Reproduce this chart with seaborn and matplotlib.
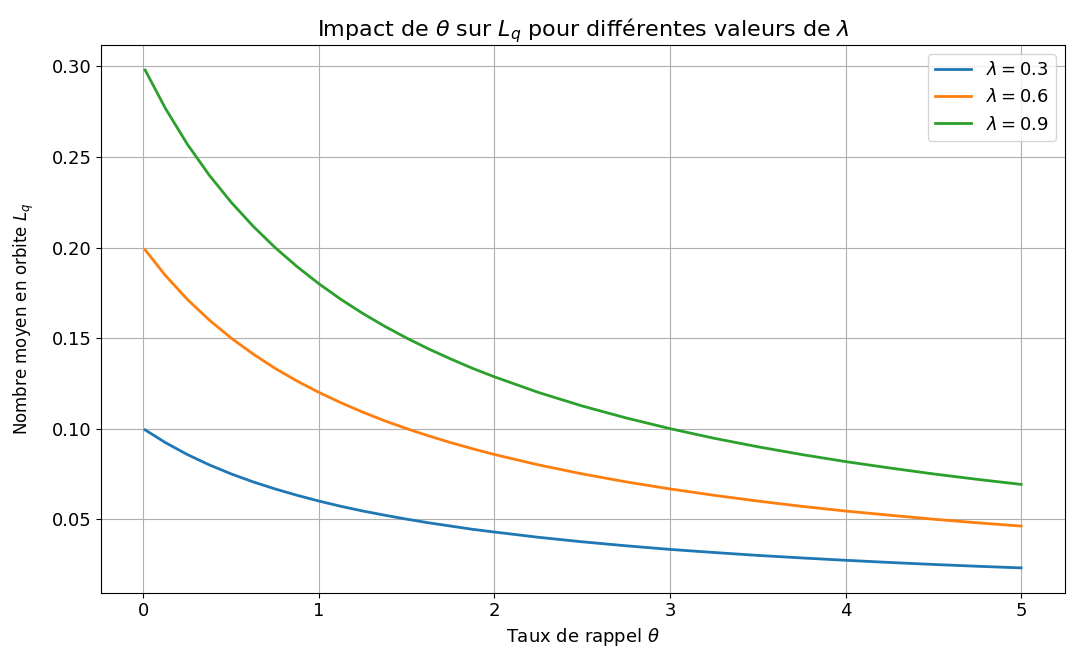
import matplotlib
matplotlib.use("Agg")
import matplotlib.pyplot as plt
import seaborn as sns
import pandas as pd

# taux de rappel theta
theta = [0.01, 0.125, 0.25, 0.375, 0.5, 0.625, 0.75, 0.875, 1.0, 1.125,
         1.25, 1.375, 1.5, 1.625, 1.75, 1.875, 2.0, 2.25, 2.5,
         2.75, 3.0, 3.25, 3.5, 3.75, 4.0, 4.25, 4.5, 4.75, 5.0]

# Lq
lq_03 = [0.0993, 0.0923, 0.0857, 0.0800, 0.0750, 0.0706, 0.0667, 0.0632,
         0.0600, 0.0571, 0.0545, 0.0522, 0.0500, 0.0480, 0.0462, 0.0444,
         0.0429, 0.0400, 0.0375, 0.0353, 0.0333, 0.0316, 0.0300, 0.0286,
         0.0273, 0.0261, 0.0250, 0.0240, 0.0231]
lq_06 = [0.1987, 0.1846, 0.1714, 0.1600, 0.1500, 0.1412, 0.1333, 0.1263,
         0.1200, 0.1143, 0.1091, 0.1043, 0.1000, 0.0960, 0.0923, 0.0889,
         0.0857, 0.0800, 0.0750, 0.0706, 0.0667, 0.0632, 0.0600, 0.0571,
         0.0545, 0.0522, 0.0500, 0.0480, 0.0462]
lq_09 = [0.2980, 0.2769, 0.2571, 0.2400, 0.2250, 0.2118, 0.2000, 0.1895,
         0.1800, 0.1714, 0.1636, 0.1565, 0.1500, 0.1440, 0.1385, 0.1333,
         0.1286, 0.1200, 0.1125, 0.1059, 0.1000, 0.0947, 0.0900, 0.0857,
         0.0818, 0.0783, 0.0750, 0.0720, 0.0692]

labels = [r'$\lambda = 0.3$', r'$\lambda = 0.6$', r'$\lambda = 0.9$']
series = [lq_03, lq_06, lq_09]
colors = sns.color_palette("tab10", 3)

fig, ax = plt.subplots(figsize=(10.67, 6.55), dpi=100)
for lab, lq, col in zip(labels, series, colors):
    df = pd.DataFrame({'theta': theta, 'Lq': lq})
    sns.lineplot(x='theta', y='Lq', data=df, ax=ax, color=col, label=lab, lw=2)

ax.set_title(r'Impact de $\theta$ sur $L_q$ pour différentes valeurs de $\lambda$', fontsize=16)
ax.set_xlabel(r'Taux de rappel $\theta$', fontsize=13)
ax.set_ylabel(r'Nombre moyen en orbite $L_q$', fontsize=12, labelpad=11)
ax.tick_params(labelsize=13)
ax.grid(True)
ax.legend(loc='upper right', fontsize=13)

fig.subplots_adjust(left=0.095, right=0.998, top=0.931, bottom=0.095)
fig.savefig('out.png', dpi=100)
